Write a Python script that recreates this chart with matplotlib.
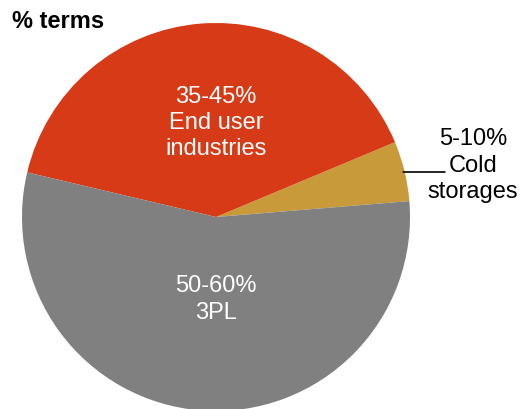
import matplotlib.pyplot as plt

plt.rcParams["font.family"] = ["Liberation Sans", "DejaVu Sans"]

# shares (midpoints of the ranges), counterclockwise from the right
segments = ["Cold storages", "End user industries", "3PL"]
shares = [5, 40, 55]
ranges = ["5-10%", "35-45%", "50-60%"]
labels = ["Cold\nstorages", "End user\nindustries", "3PL"]
colors = ["#C99A3A", "#D63A16", "#808080"]

fig = plt.figure(figsize=(5.2, 4.1), dpi=100)
ax = fig.add_axes([22 / 520, -2 / 410, 388 / 520, 388 / 410])

wedges, _ = ax.pie(shares, colors=colors, startangle=4.7, counterclock=True,
                   radius=1.0, wedgeprops=dict(linewidth=0))
ax.set_xlim(-1, 1)
ax.set_ylim(-1, 1)
ax.set_aspect("equal")

# labels inside the big slices
ax.text(0.0, 0.49, f"{ranges[1]}\n{labels[1]}", ha="center", va="center",
        color="white", fontsize=17, linespacing=1.25)
ax.text(0.0, -0.42, f"{ranges[2]}\n{labels[2]}", ha="center", va="center",
        color="white", fontsize=17, linespacing=1.25)

# outside label with horizontal leader line for the small slice
ax.annotate("", xy=(0.965, 0.232), xytext=(1.18, 0.232),
            annotation_clip=False,
            arrowprops=dict(arrowstyle="-", color="black", lw=1.2,
                            shrinkA=0, shrinkB=0))
ax.text(1.325, 0.27, f"{ranges[0]}\n{labels[0]}", ha="center", va="center",
        fontsize=17, linespacing=1.25, clip_on=False)

fig.text(12 / 520, 1 - 22 / 410, "% terms", ha="left", va="center",
         fontsize=17, fontweight="bold")

fig.savefig("out.png", dpi=100)
